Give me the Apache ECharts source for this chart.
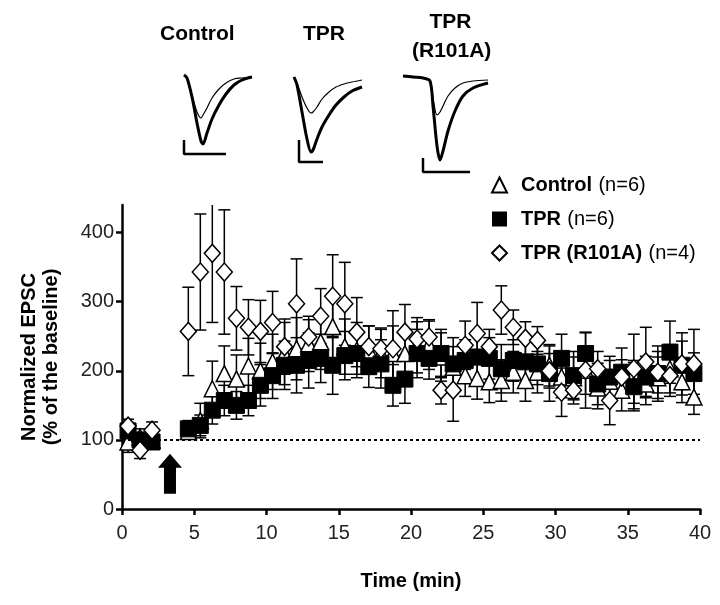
<!DOCTYPE html>
<html>
<head>
<meta charset="utf-8">
<script src="https://cdn.jsdelivr.net/npm/echarts@6/dist/echarts.min.js"></script>
<style>
  html, body { margin: 0; padding: 0; background: #fff; }
  #chart { width: 720px; height: 605px; }
</style>
</head>
<body>
<div id="chart"></div>
<script>
// time of each sweep (min)
const times = [0.42, 1.25, 2.08, 4.59, 5.42, 6.25, 7.08, 7.92, 8.75, 9.58, 10.42, 11.25, 12.08, 12.92,
  13.75, 14.58, 15.42, 16.25, 17.08, 17.92, 18.75, 19.58, 20.42, 21.25, 22.08, 22.92, 23.75, 24.58,
  25.42, 26.25, 27.08, 27.92, 28.75, 29.58, 30.42, 31.25, 32.08, 32.92, 33.75, 34.58, 35.42, 36.25,
  37.08, 37.92, 38.75, 39.58];

// normalized EPSC (%), mean and SEM
const ctrlMean = [97, 104, 100, 112, 128, 174, 196, 188, 207, 200, 213, 225, 232, 239, 242, 264, 235, 230,
  230, 225, 225, 225, 237, 237, 220, 205, 193, 189, 184, 186, 198, 186, 198, 208, 191, 190, 201, 175,
  185, 172, 180, 181, 190, 203, 184, 162];
const ctrlSem = [15, 12, 10, 10, 25, 40, 40, 35, 40, 40, 40, 45, 45, 40, 40, 45, 40, 40, 35, 35, 40, 35,
  40, 35, 35, 30, 30, 30, 30, 30, 30, 30, 30, 30, 30, 30, 35, 30, 30, 30, 35, 30, 30, 35, 30, 25];

const tprMean = [113, 100, 97, 116, 121, 143, 157, 150, 157, 179, 193, 208, 208, 215, 218, 208, 222, 225,
  206, 210, 179, 188, 225, 218, 225, 210, 215, 220, 218, 203, 215, 213, 210, 196, 218, 193, 225, 181,
  191, 198, 177, 191, 196, 227, 208, 196];
const tprSem = [12, 10, 8, 12, 15, 20, 22, 20, 22, 30, 33, 35, 40, 40, 35, 42, 35, 30, 30, 35, 30, 35,
  35, 30, 35, 38, 30, 35, 30, 35, 30, 30, 30, 40, 35, 35, 30, 30, 30, 35, 35, 30, 40, 45, 35, 30];

const mutMean = [120, 85, 114, 257, 343, 370, 343, 276, 263, 257, 270, 235, 297, 249, 279, 308, 297, 256,
  235, 232, 232, 256, 246, 249, 172, 172, 237, 254, 235, 288, 263, 247, 244, 200, 169, 172, 201, 203,
  157, 191, 203, 213, 198, 193, 210, 210];
const mutSem = [10, 12, 12, 64, 84, 100, 90, 46, 40, 45, 45, 40, 65, 25, 40, 60, 60, 50, 30, 30, 55, 40,
  25, 25, 20, 45, 35, 45, 25, 35, 25, 24, 20, 25, 35, 20, 55, 25, 35, 25, 50, 50, 30, 30, 45, 50];

const xTicks = [0, 5, 10, 15, 20, 25, 30, 35, 40];
const yTicks = [0, 100, 200, 300, 400];

// sample EPSC traces for the insets (before = thin, after = thick)
const traceT = [0, 3, 8, 13, 17, 19, 23, 28, 35, 42, 50, 58, 68];
const ctrlThick = [0, -3, -22, -48, -66, -69, -58, -44, -30, -19, -10, -5, -2];
const ctrlThin = [0, -3, -20, -37, -43, -40, -33, -23, -14, -8, -4, -3, -2];
const tprThick = [0, -8, -35, -62, -75, -73, -62, -50, -38, -28, -20, -14, -10];
const tprThin = [0, -6, -20, -31, -36, -35, -30, -22, -15, -10, -7, -5, -3];
const mutT = [0, 10, 20, 27, 30, 34, 37, 40, 45, 52, 60, 70, 85];
const mutThick = [0, -1, -2, -5, -30, -70, -84, -75, -55, -35, -20, -12, -7];
const mutThin = [0, -1, -2, -5, -22, -39, -36, -30, -20, -12, -7, -5, -4];
const ctrlScale = [[0, -65], [0, -79], [42, -79]];
const tprScale = [[5, -63], [5, -85], [29, -85]];
const mutScale = [[20, -82], [20, -96], [67, -96]];

const Y_MAX = 440;
const FONT = 'Liberation Sans, Arial, sans-serif';

const zip = (a, b) => a.map((v, i) => [v, b[i]]);
const errData = (m, s) => times.map((t, i) => [t, m[i] - s[i], m[i] + s[i]]);

function errBar(params, api) {
  const x = api.value(0);
  const lo = api.value(1);
  const hi = api.value(2);
  const top = api.coord([x, Math.min(hi, Y_MAX)]);
  const bot = api.coord([x, lo]);
  const w = 6;
  const st = { stroke: '#000', lineWidth: 1.5 };
  const kids = [
    { type: 'line', shape: { x1: top[0], y1: top[1], x2: bot[0], y2: bot[1] }, style: st },
    { type: 'line', shape: { x1: bot[0] - w, y1: bot[1], x2: bot[0] + w, y2: bot[1] }, style: st }
  ];
  if (hi <= Y_MAX) {
    kids.push({ type: 'line', shape: { x1: top[0] - w, y1: top[1], x2: top[0] + w, y2: top[1] }, style: st });
  }
  return { type: 'group', children: kids };
}

function errSeries(m, s) {
  return {
    type: 'custom', xAxisIndex: 0, yAxisIndex: 0, z: 1, silent: true,
    renderItem: errBar, encode: { x: 0, y: [1, 2] }, data: errData(m, s)
  };
}

function traceSeries(idx, data, w) {
  return {
    type: 'line', xAxisIndex: idx, yAxisIndex: idx, data: data, showSymbol: false,
    smooth: 0.3, silent: true, lineStyle: { color: '#000', width: w }
  };
}

function insetAxes(idx) {
  return {
    x: { gridIndex: idx, type: 'value', min: 0, max: 90, show: false },
    y: { gridIndex: idx, type: 'value', min: -100, max: 5, show: false }
  };
}

const insets = [1, 2, 3].map(insetAxes);
const chart = echarts.init(document.getElementById('chart'));

chart.setOption({
  animation: false,
  textStyle: { fontFamily: FONT, color: '#000' },
  grid: [
    { left: 122, right: 20, top: 205, bottom: 96 },
    { left: 184, top: 70, width: 90, height: 105 },
    { left: 294, top: 72, width: 90, height: 105 },
    { left: 403, top: 71, width: 90, height: 105 }
  ],
  xAxis: [{
    type: 'value', min: 0, max: 40, interval: 5,
    name: 'Time (min)', nameLocation: 'middle', nameGap: 62,
    nameTextStyle: { fontSize: 20, fontWeight: 'bold', color: '#000' },
    axisLine: { lineStyle: { color: '#000', width: 2.5 } },
    axisTick: { inside: false, length: 6, lineStyle: { color: '#000', width: 2.5 }, customValues: xTicks },
    axisLabel: { fontSize: 20, color: '#222', margin: 14, customValues: xTicks },
    splitLine: { show: false }
  }].concat(insets.map(a => a.x)),
  yAxis: [{
    type: 'value', min: 0, max: Y_MAX,
    name: 'Normalized EPSC\n(% of the baseline)', nameLocation: 'middle', nameGap: 60, nameRotate: 90,
    nameTextStyle: { fontSize: 20, fontWeight: 'bold', color: '#000', lineHeight: 22 },
    axisLine: { lineStyle: { color: '#000', width: 2.5 } },
    axisTick: { inside: false, length: 6, lineStyle: { color: '#000', width: 2.5 }, customValues: yTicks },
    axisLabel: { fontSize: 20, color: '#222', margin: 8, customValues: yTicks },
    splitLine: { show: false }
  }].concat(insets.map(a => a.y)),
  legend: {
    orient: 'vertical', left: 486, top: 170, itemGap: 14, itemWidth: 15, itemHeight: 15,
    data: ['Control', 'TPR', 'TPR (R101A)'],
    formatter: name => {
      const n = { 'Control': '(n=6)', 'TPR': '(n=6)', 'TPR (R101A)': '(n=4)' }[name];
      return '{b|' + name + '} {n|' + n + '}';
    },
    textStyle: {
      rich: {
        b: { fontSize: 20, fontWeight: 'bold', color: '#000', fontFamily: FONT, padding: [0, 0, 0, 9] },
        n: { fontSize: 20, color: '#000', fontFamily: FONT, padding: [0, 0, 0, 3] }
      }
    }
  },
  graphic: [
    { type: 'text', left: 160, top: 24, style: { text: 'Control', font: 'bold 21px ' + FONT, fill: '#000' } },
    { type: 'text', left: 303, top: 24, style: { text: 'TPR', font: 'bold 21px ' + FONT, fill: '#000' } },
    { type: 'text', left: 412, top: 8, style: { text: '   TPR\n(R101A)', font: 'bold 21px ' + FONT, fill: '#000', lineHeight: 29 } }
  ],
  series: [
    errSeries(ctrlMean, ctrlSem),
    errSeries(mutMean, mutSem),
    errSeries(tprMean, tprSem),
    {
      name: 'Control', type: 'scatter', z: 3, symbol: 'triangle', symbolSize: 16,
      itemStyle: { color: '#fff', borderColor: '#000', borderWidth: 1.5, opacity: 1 },
      data: zip(times, ctrlMean)
    },
    {
      name: 'TPR', type: 'scatter', z: 4, symbol: 'rect', symbolSize: 16,
      itemStyle: { color: '#000', borderColor: '#000', opacity: 1 },
      data: zip(times, tprMean),
      markLine: {
        silent: true, symbol: ['none', 'none'], label: { show: false },
        lineStyle: { color: '#000', width: 2, type: [3, 3] },
        data: [{ yAxis: 100 }]
      },
      markPoint: {
        silent: true, label: { show: false },
        symbol: 'path://M12,0 L24,14 L18,14 L18,40 L6,40 L6,14 L0,14 Z', symbolSize: [24, 40],
        itemStyle: { color: '#000' },
        data: [{ coord: [3.32, 51] }]
      }
    },
    {
      name: 'TPR (R101A)', type: 'scatter', z: 5, symbol: 'diamond', symbolSize: [16, 18],
      itemStyle: { color: '#fff', borderColor: '#000', borderWidth: 1.5, opacity: 1 },
      data: zip(times, mutMean)
    },
    traceSeries(1, zip(traceT, ctrlThin), 1.2),
    traceSeries(1, zip(traceT, ctrlThick), 3),
    traceSeries(1, ctrlScale, 2.5),
    traceSeries(2, zip(traceT, tprThin), 1.2),
    traceSeries(2, zip(traceT, tprThick), 3),
    traceSeries(2, tprScale, 2.5),
    traceSeries(3, zip(mutT, mutThin), 1.2),
    traceSeries(3, zip(mutT, mutThick), 3),
    traceSeries(3, mutScale, 2.5)
  ]
});
</script>
</body>
</html>
